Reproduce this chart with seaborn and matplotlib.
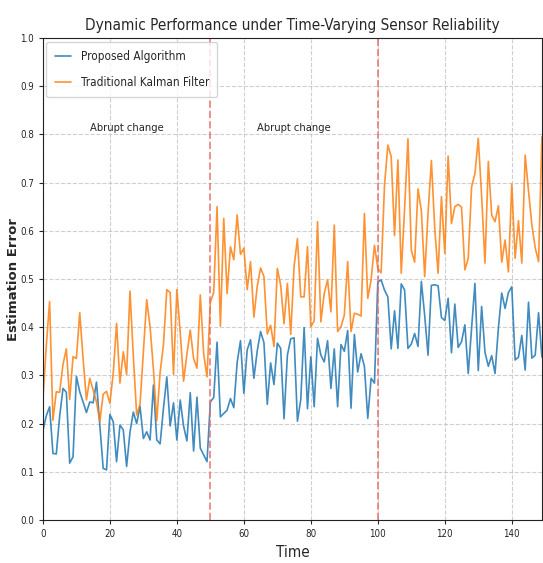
import numpy as np
import pandas as pd
import matplotlib
matplotlib.use("Agg")
import matplotlib.pyplot as plt
import seaborn as sns

proposed = [
    0.185, 0.216, 0.235, 0.138, 0.137, 0.215, 0.273, 0.265, 0.118, 0.131,
    0.298, 0.266, 0.245, 0.223, 0.245, 0.243, 0.286, 0.197, 0.107, 0.104,
    0.219, 0.204, 0.121, 0.197, 0.187, 0.111, 0.182, 0.224, 0.200, 0.236,
    0.169, 0.183, 0.166, 0.280, 0.166, 0.158, 0.232, 0.297, 0.195, 0.243,
    0.166, 0.249, 0.195, 0.164, 0.264, 0.143, 0.255, 0.149, 0.135, 0.121,
    0.245, 0.254, 0.369, 0.214, 0.221, 0.228, 0.252, 0.233, 0.327, 0.372,
    0.263, 0.353, 0.374, 0.294, 0.351, 0.391, 0.368, 0.240, 0.326, 0.281,
    0.367, 0.356, 0.210, 0.342, 0.376, 0.378, 0.205, 0.250, 0.399, 0.231,
    0.339, 0.235, 0.377, 0.342, 0.328, 0.372, 0.273, 0.355, 0.235, 0.364,
    0.350, 0.393, 0.232, 0.385, 0.307, 0.345, 0.319, 0.211, 0.294, 0.284,
    0.494, 0.498, 0.477, 0.463, 0.355, 0.434, 0.356, 0.490, 0.477, 0.356,
    0.365, 0.387, 0.360, 0.495, 0.424, 0.342, 0.487, 0.488, 0.486, 0.420,
    0.414, 0.460, 0.347, 0.448, 0.358, 0.370, 0.405, 0.304, 0.396, 0.491,
    0.310, 0.443, 0.348, 0.319, 0.341, 0.304, 0.398, 0.471, 0.439, 0.472,
    0.484, 0.332, 0.338, 0.383, 0.311, 0.452, 0.336, 0.342, 0.430, 0.338,
]

kalman = [
    0.250, 0.360, 0.453, 0.207, 0.266, 0.265, 0.323, 0.355, 0.250, 0.339,
    0.335, 0.430, 0.335, 0.249, 0.294, 0.270, 0.245, 0.204, 0.261, 0.267,
    0.242, 0.304, 0.408, 0.284, 0.349, 0.302, 0.475, 0.340, 0.218, 0.240,
    0.347, 0.457, 0.401, 0.313, 0.206, 0.306, 0.364, 0.478, 0.472, 0.302,
    0.478, 0.390, 0.288, 0.344, 0.394, 0.335, 0.315, 0.467, 0.345, 0.297,
    0.452, 0.472, 0.650, 0.402, 0.626, 0.470, 0.567, 0.540, 0.633, 0.551,
    0.564, 0.478, 0.536, 0.421, 0.485, 0.523, 0.505, 0.386, 0.404, 0.360,
    0.522, 0.487, 0.407, 0.491, 0.385, 0.526, 0.584, 0.463, 0.463, 0.567,
    0.401, 0.413, 0.619, 0.411, 0.470, 0.498, 0.432, 0.612, 0.391, 0.401,
    0.425, 0.536, 0.391, 0.429, 0.427, 0.423, 0.636, 0.460, 0.498, 0.570,
    0.522, 0.513, 0.695, 0.778, 0.754, 0.590, 0.747, 0.512, 0.646, 0.791,
    0.560, 0.535, 0.687, 0.642, 0.505, 0.636, 0.746, 0.605, 0.512, 0.671,
    0.553, 0.755, 0.615, 0.650, 0.655, 0.649, 0.519, 0.543, 0.691, 0.719,
    0.792, 0.672, 0.533, 0.744, 0.633, 0.619, 0.652, 0.535, 0.581, 0.515,
    0.697, 0.543, 0.621, 0.533, 0.757, 0.683, 0.612, 0.565, 0.536, 0.795,
]

time = list(range(len(proposed)))
methods = ["Proposed Algorithm", "Traditional Kalman Filter"]
change_points = [50, 100]
annotations = [(25, "Abrupt change"), (75, "Abrupt change")]
xticks = [0, 20, 40, 60, 80, 100, 120, 140]
yticks = [0.0, 0.1, 0.2, 0.3, 0.4, 0.5, 0.6, 0.7, 0.8, 0.9, 1.0]

df = pd.DataFrame({
    "Time": time * 2,
    "Error": proposed + kalman,
    "Method": [methods[0]] * len(proposed) + [methods[1]] * len(kalman),
})

sns.set_style("ticks")
plt.rcParams["font.family"] = ["DejaVu Sans"]
plt.rcParams["font.stretch"] = "condensed"

fig = plt.figure(figsize=(5.43, 5.63), dpi=100)
ax = fig.add_axes([0.079, 0.0764, 0.919, 0.856])

sns.lineplot(data=df, x="Time", y="Error", hue="Method",
             palette=["#1f77b4", "#ff7f0e"], linewidth=1.2, alpha=0.85, ax=ax)

for cp in change_points:
    ax.axvline(cp, color="#e86a6a", linestyle="--", linewidth=1.4, alpha=0.75)

for x, label in annotations:
    ax.text(x, 0.813, label, ha="center", va="center", fontsize=8)

ax.set_xlim(0, 149)
ax.set_ylim(0, 1.0)
ax.set_xticks(xticks)
ax.set_yticks(yticks)
ax.tick_params(labelsize=7, length=3)
ax.grid(True, linestyle="--", color="#bbbbbb", alpha=0.7, linewidth=0.8)

ax.set_title("Dynamic Performance under Time-Varying Sensor Reliability", fontsize=11)
ax.set_xlabel("Time", fontsize=11)
ax.set_ylabel("Estimation Error", fontsize=9.5, fontweight="bold",
              fontstretch="normal")
ax.yaxis.set_label_coords(-0.046, 0.5)

leg = ax.legend(loc="upper left", fontsize=8.5, frameon=True, title=None,
                handlelength=1.4, borderpad=0.7, labelspacing=1.1,
                borderaxespad=0.3)
for s in ["top", "right", "left", "bottom"]:
    ax.spines[s].set_visible(True)
    ax.spines[s].set_color("#222222")

fig.savefig("out.png", dpi=100)
